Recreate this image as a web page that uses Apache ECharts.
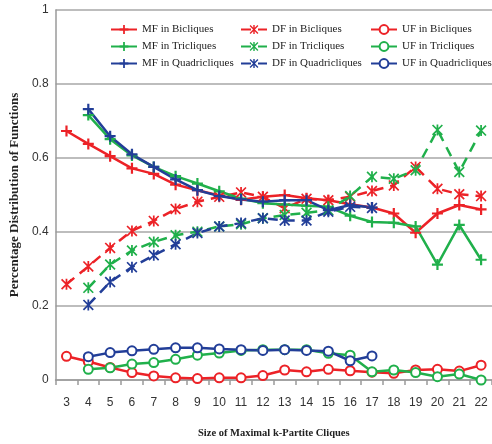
<!DOCTYPE html>
<html><head><meta charset="utf-8">
<script src="https://cdn.jsdelivr.net/npm/echarts@6/dist/echarts.min.js"></script>
<style>html,body{margin:0;padding:0;background:#fff}#c{width:492px;height:444px}</style>
</head><body><div id="c"></div>
<script>
const categories = ['3','4','5','6','7','8','9','10','11','12','13','14','15','16','17','18','19','20','21','22'];
const yTicks = [0, 0.2, 0.4, 0.6, 0.8, 1];

const mfBi   = [0.673,0.638,0.605,0.572,0.557,0.528,0.513,0.499,0.487,0.495,0.500,0.491,0.486,0.475,0.466,0.450,0.398,0.450,0.473,0.461];
const dfBi   = [0.259,0.307,0.357,0.403,0.430,0.462,0.482,0.495,0.507,0.495,0.464,0.490,0.486,0.495,0.511,0.526,0.576,0.517,0.502,0.497];
const ufBi   = [0.064,0.050,0.034,0.020,0.011,0.006,0.004,0.006,0.006,0.012,0.027,0.022,0.029,0.025,0.021,0.018,0.027,0.029,0.024,0.040];

const mfTri  = [null,0.716,0.651,0.607,0.576,0.551,0.531,0.510,0.490,0.478,0.474,0.471,0.468,0.444,0.427,0.425,0.415,0.312,0.419,0.325];
const dfTri  = [null,0.249,0.312,0.350,0.373,0.391,0.401,0.415,0.421,0.437,0.446,0.452,0.459,0.497,0.549,0.544,0.567,0.676,0.562,0.674];
const ufTri  = [null,0.029,0.033,0.043,0.047,0.056,0.067,0.073,0.080,0.082,0.082,0.082,0.072,0.067,0.022,0.027,0.020,0.009,0.016,0.000];

const mfQuad = [null,0.732,0.659,0.610,0.576,0.542,0.513,0.497,0.488,0.482,0.486,0.486,0.459,0.473,0.466,null,null,null,null,null];
const dfQuad = [null,0.203,0.265,0.305,0.337,0.367,0.397,0.415,0.424,0.437,0.431,0.431,0.455,0.468,0.465,null,null,null,null,null];
const ufQuad = [null,0.063,0.074,0.079,0.083,0.087,0.087,0.084,0.082,0.080,0.082,0.080,0.078,0.052,0.065,null,null,null,null,null];

const RED = '#ec2227', GREEN = '#20b04b', BLUE = '#223e98';
const PLUS = 'path://M4,0H6V4H10V6H6V10H4V6H0V4H4Z';
const STAR = 'path://M4.2,0H5.8V10H4.2Z M1.1,0L10,8.9L8.9,10L0,1.1Z M8.9,0L10,1.1L1.1,10L0,8.9Z';

function mk(name, data, color, kind) {
  const s = {
    name, type: 'line', data, connectNulls: false,
    lineStyle: { color, width: 2.5, type: kind === 'DF' ? [10, 7] : 'solid' },
    itemStyle: { color },
    emphasis: { disabled: true },
    animation: false
  };
  if (kind === 'MF') { s.symbol = PLUS; s.symbolSize = 11; }
  else if (kind === 'DF') { s.symbol = STAR; s.symbolSize = 11; }
  else { s.symbol = 'emptyCircle'; s.symbolSize = 9; s.itemStyle = { color, borderColor: color, borderWidth: 2 }; }
  return s;
}

const series = [
  mk('MF in Bicliques', mfBi, RED, 'MF'),
  mk('DF in Bicliques', dfBi, RED, 'DF'),
  mk('UF in Bicliques', ufBi, RED, 'UF'),
  mk('MF in Tricliques', mfTri, GREEN, 'MF'),
  mk('DF in Tricliques', dfTri, GREEN, 'DF'),
  mk('UF in Tricliques', ufTri, GREEN, 'UF'),
  mk('MF in Quadricliques', mfQuad, BLUE, 'MF'),
  mk('DF in Quadricliques', dfQuad, BLUE, 'DF'),
  mk('UF in Quadricliques', ufQuad, BLUE, 'UF')
];

const SERIF = '"Liberation Serif", "Times New Roman", serif';
const SANS = '"Liberation Sans Narrow", "Liberation Sans", Arial, sans-serif';

function legend(left, names) {
  return {
    orient: 'vertical', left, top: 24, itemWidth: 26, itemHeight: 11, itemGap: 6,
    padding: 0, data: names, selectedMode: false,
    textStyle: { fontFamily: SERIF, fontSize: 11, color: '#222', lineHeight: 11 }
  };
}

const chart = echarts.init(document.getElementById('c'), null, { renderer: 'canvas' });
chart.setOption({
  animation: false,
  backgroundColor: '#fff',
  grid: { left: 53, top: 10, width: 441, height: 373, containLabel: false },
  legend: [
    legend(110, ['MF in Bicliques', 'MF in Tricliques', 'MF in Quadricliques']),
    legend(240, ['DF in Bicliques', 'DF in Tricliques', 'DF in Quadricliques']),
    legend(370, ['UF in Bicliques', 'UF in Tricliques', 'UF in Quadricliques'])
  ],
  xAxis: {
    type: 'category', data: categories, boundaryGap: true,
    name: 'Size of Maximal k-Partite Cliques', nameLocation: 'middle', nameGap: 48,
    nameTextStyle: { fontFamily: SERIF, fontWeight: 'bold', fontSize: 10.5, color: '#222' },
    axisLine: { lineStyle: { color: '#9a9a9a', width: 1.5 } },
    axisTick: { show: true, alignWithLabel: false, length: 5, lineStyle: { color: '#9a9a9a', width: 1.5 } },
    axisLabel: { margin: 17, fontFamily: SANS, fontSize: 12, color: '#333' },
    splitLine: { show: false }
  },
  yAxis: {
    type: 'value', min: yTicks[0], max: yTicks[yTicks.length - 1], interval: 0.2,
    name: 'Percentage Distribution of Functions', nameLocation: 'middle', nameGap: 24, nameRotate: 90,
    nameTextStyle: { fontFamily: SERIF, fontWeight: 'bold', fontSize: 13, color: '#222' },
    axisLine: { show: true, lineStyle: { color: '#9a9a9a', width: 1.5 } },
    axisTick: { show: false },
    axisLabel: { margin: 7, fontFamily: SANS, fontSize: 12, color: '#333' },
    splitLine: { show: true, lineStyle: { color: '#bdbdbd', width: 2 } }
  },
  series
});
</script></body></html>
